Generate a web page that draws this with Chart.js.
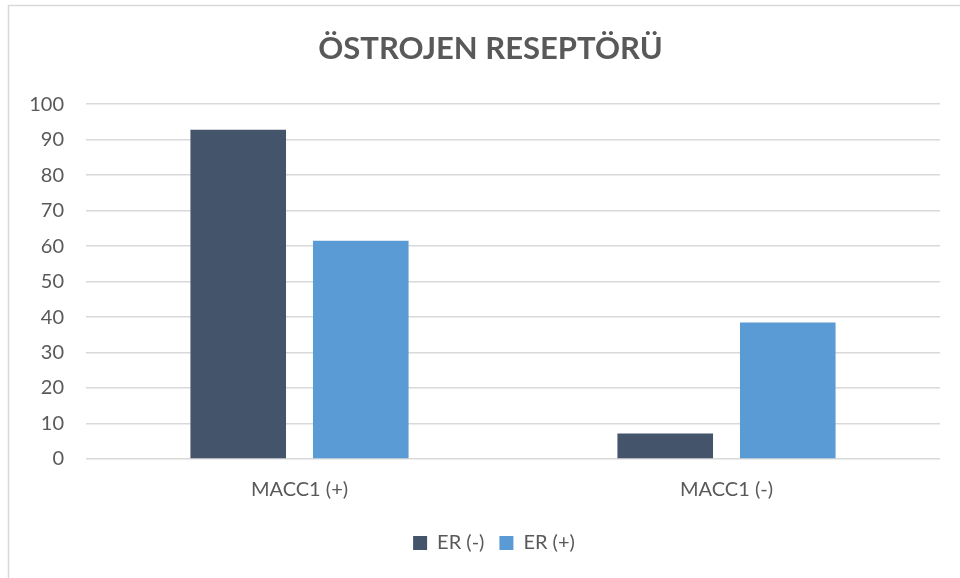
<!DOCTYPE html>
<html>
<head>
<meta charset="utf-8">
<script src="https://cdn.jsdelivr.net/npm/chart.js@4/dist/chart.umd.min.js"></script>
<style>
html,body{margin:0;padding:0;background:#fff;}
#wrap{width:960px;height:578px;position:relative;}
</style>
</head>
<body>
<div id="wrap"><canvas id="c" width="960" height="578"></canvas></div>
<script>
const title = "ÖSTROJEN RESEPTÖRÜ";
const categories = ["MACC1 (+)", "MACC1 (-)"];
const seriesNames = ["ER (-)", "ER (+)"];
const erNeg = [92.8, 7.2];
const erPos = [61.5, 38.5];
const yTicks = [0, 10, 20, 30, 40, 50, 60, 70, 80, 90, 100];

const frame = {
  id: 'frame',
  beforeDraw(chart) {
    const ctx = chart.ctx;
    ctx.save();
    ctx.fillStyle = '#fff';
    ctx.fillRect(0, 0, chart.width, chart.height);
    ctx.strokeStyle = '#d9d9d9';
    ctx.lineWidth = 1.5;
    ctx.beginPath();
    ctx.moveTo(8.5, chart.height);
    ctx.lineTo(8.5, 5.5);
    ctx.lineTo(chart.width, 5.5);
    ctx.stroke();
    ctx.restore();
  }
};

// shift centred title and legend boxes to match the reference's centring
const centreShift = {
  id: 'centreShift',
  afterLayout(chart) {
    if (chart.legend) { chart.legend.left += 42; chart.legend.adjustHitBoxes(); }
    if (chart.titleBlock) { chart.titleBlock.left += 35; }
  }
};

const tickFont = { family: 'Lato, sans-serif', size: 20 };

new Chart(document.getElementById('c'), {
  type: 'bar',
  data: {
    labels: categories,
    datasets: [
      { label: seriesNames[0], data: erNeg, backgroundColor: '#44546a', borderWidth: 0,
        categoryPercentage: 0.574, barPercentage: 0.78 },
      { label: seriesNames[1], data: erPos, backgroundColor: '#5b9bd5', borderWidth: 0,
        categoryPercentage: 0.574, barPercentage: 0.78 }
    ]
  },
  options: {
    responsive: false,
    animation: false,
    devicePixelRatio: 1,
    layout: { padding: { left: 6, right: 20, top: 0, bottom: 15 } },
    plugins: {
      title: {
        display: true, text: title, color: '#595959',
        font: { family: 'Lato, sans-serif', size: 31, weight: 'bold' },
        padding: { top: 30, bottom: 37 }
      },
      legend: {
        position: 'bottom',
        labels: {
          color: '#595959', boxWidth: 14, boxHeight: 14, padding: 15,
          font: tickFont
        }
      },
      tooltip: { enabled: false }
    },
    scales: {
      x: {
        grid: { display: false, drawTicks: false },
        border: { display: false },
        ticks: { color: '#595959', padding: 19, font: tickFont },
        afterFit(s) { s.height = 59; }
      },
      y: {
        min: 0, max: 100,
        afterBuildTicks(s) { s.ticks = yTicks.map(v => ({ value: v })); },
        grid: { color: '#d9d9d9', lineWidth: 1.5, drawTicks: false },
        border: { display: false },
        ticks: { color: '#595959', padding: 22, font: tickFont },
        afterFit(s) { s.width = 80; }
      }
    }
  },
  plugins: [frame, centreShift]
});
</script>
</body>
</html>
